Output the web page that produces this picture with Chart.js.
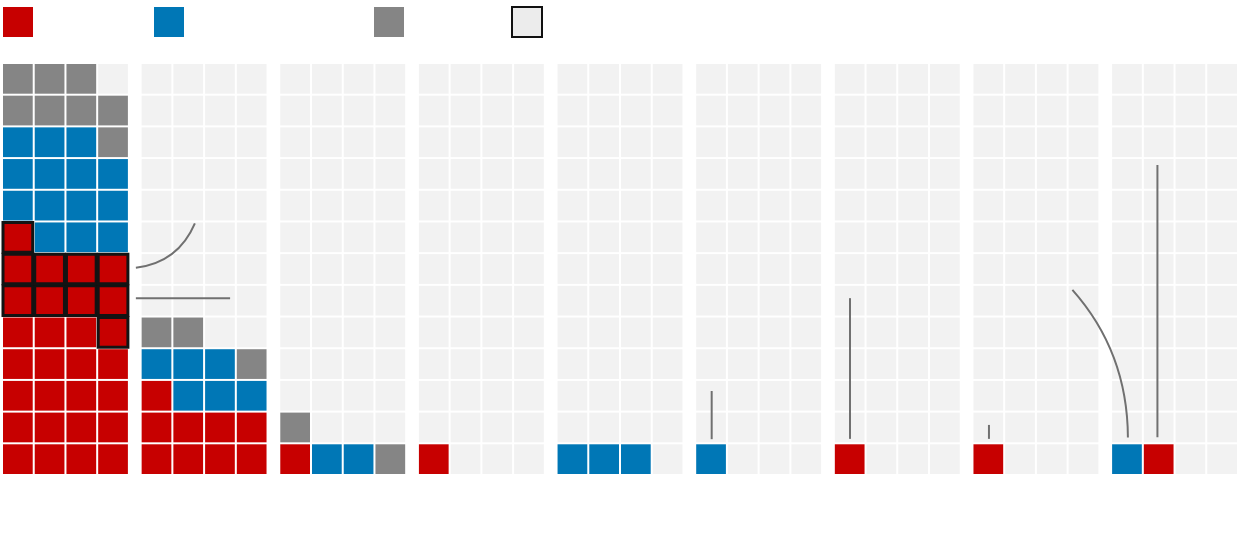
<!DOCTYPE html>
<html>
<head>
<meta charset="utf-8">
<title>Waffle panels</title>
<script src="https://cdn.jsdelivr.net/npm/chart.js@4.4.1/dist/chart.umd.min.js"></script>
<style>
  html, body { margin: 0; padding: 0; background: #fff; }
  #wrap { position: relative; width: 1240px; height: 538px; overflow: hidden; }
  #chart { position: absolute; left: 0; top: 0; }
  .key { position: absolute; top: 7px; width: 30px; height: 30px; }
  .key.red { left: 3px; background: #c70000; }
  .key.blue { left: 154px; background: #0077b6; }
  .key.gray { left: 374px; background: #858585; }
  .key.outline { left: 511px; top: 6px; width: 28px; height: 28px; background: #ececec; border: 2px solid #111; }
</style>
</head>
<body>
<div id="wrap">
  <canvas id="chart" width="1240" height="538"></canvas>
  <div id="legend"></div>
</div>
<script>
/* waffle small multiples: 9 panels of 4 x 13 cells, filled bottom-up */

const ROWS = 13;
const COLS = 4;
const panelIds   = ['p1', 'p2', 'p3', 'p4', 'p5', 'p6', 'p7', 'p8', 'p9'];
const redCounts  = [29, 9, 1, 1, 0, 0, 1, 1, 1];
const blueCounts = [14, 6, 2, 0, 3, 1, 0, 0, 1];
const grayCounts = [ 8, 3, 2, 0, 0, 0, 0, 0, 0];
const fillOrder  = [
  ['red', 'blue', 'gray'], ['red', 'blue', 'gray'], ['red', 'blue', 'gray'],
  ['red', 'blue', 'gray'], ['red', 'blue', 'gray'], ['red', 'blue', 'gray'],
  ['red', 'blue', 'gray'], ['red', 'blue', 'gray'], ['blue', 'red', 'gray']
];
// outlined group: cells 20..29 of the first panel
const highlightPanel = 0;
const highlightStart = 19;
const highlightCount = 10;

// leader lines (data units: x = cell columns, y = rows)
const leaderLines = [
  { from: [4.22, 6.54], ctrl: [5.55, 6.70], to: [6.08, 7.94] },
  { from: [4.22, 5.58], to: [7.19, 5.58] },
  { from: [22.37, 1.13], to: [22.37, 2.65] },
  { from: [26.73, 1.14], to: [26.73, 5.58] },
  { from: [31.11, 1.14], to: [31.11, 1.58] },
  { from: [33.74, 5.84], ctrl: [35.48, 3.88], to: [35.49, 1.18] },
  { from: [36.42, 1.19], to: [36.42, 9.78] }
];

const COLORS = { red: '#c70000', blue: '#0077b6', gray: '#858585', empty: '#f2f2f2', outline: '#131313', leader: '#707070' };
const PANEL_STEP = 4.37;   // panel pitch in cell units
const GAP_PX = 2;

document.getElementById('legend').innerHTML =
  ['red', 'blue', 'gray', 'outline'].map(k => `<div class="key ${k}"></div>`).join('');

function cellPos(p, i) {
  return { x: p * PANEL_STEP + (i % COLS) + 0.5, y: Math.floor(i / COLS) + 0.5 };
}

const cells = { red: [], blue: [], gray: [], empty: [], hi: [] };
panelIds.forEach((id, p) => {
  const counts = { red: redCounts[p], blue: blueCounts[p], gray: grayCounts[p] };
  let i = 0;
  fillOrder[p].forEach(k => {
    for (let n = 0; n < counts[k]; n++, i++) {
      const inHi = p === highlightPanel && i >= highlightStart && i < highlightStart + highlightCount;
      (inHi ? cells.hi : cells[k]).push(cellPos(p, i));
    }
  });
  for (; i < ROWS * COLS; i++) cells.empty.push(cellPos(p, i));
});

function cellRadius(ctx) {
  const xs = ctx.chart.scales.x;
  const unit = xs.getPixelForValue(1) - xs.getPixelForValue(0);
  return (unit - GAP_PX) / Math.SQRT2;
}

function ds(data, fill, border, bw) {
  return {
    data,
    backgroundColor: fill,
    borderColor: border || fill,
    borderWidth: bw || 0,
    pointStyle: 'rect',
    pointRadius: cellRadius,
    pointHoverRadius: cellRadius,
    clip: false
  };
}

const leaderPlugin = {
  id: 'leaders',
  afterDatasetsDraw(chart) {
    const { ctx, scales: { x, y } } = chart;
    ctx.save();
    ctx.strokeStyle = COLORS.leader;
    ctx.lineWidth = 2;
    leaderLines.forEach(l => {
      ctx.beginPath();
      ctx.moveTo(x.getPixelForValue(l.from[0]), y.getPixelForValue(l.from[1]));
      if (l.ctrl) {
        ctx.quadraticCurveTo(x.getPixelForValue(l.ctrl[0]), y.getPixelForValue(l.ctrl[1]),
                             x.getPixelForValue(l.to[0]), y.getPixelForValue(l.to[1]));
      } else {
        ctx.lineTo(x.getPixelForValue(l.to[0]), y.getPixelForValue(l.to[1]));
      }
      ctx.stroke();
    });
    ctx.restore();
  }
};

new Chart(document.getElementById('chart'), {
  type: 'scatter',
  data: {
    // first dataset is drawn on top
    datasets: [
      ds(cells.hi, COLORS.red, COLORS.outline, 3),
      ds(cells.red, COLORS.red),
      ds(cells.blue, COLORS.blue),
      ds(cells.gray, COLORS.gray),
      ds(cells.empty, COLORS.empty)
    ]
  },
  options: {
    responsive: false,
    animation: false,
    events: [],
    layout: { padding: { left: 2, right: 2, top: 63, bottom: 63 } },
    scales: {
      x: { type: 'linear', min: 0, max: (panelIds.length - 1) * PANEL_STEP + COLS, display: false },
      y: { type: 'linear', min: 0, max: ROWS, display: false }
    },
    plugins: { legend: { display: false }, tooltip: { enabled: false } }
  },
  plugins: [leaderPlugin]
});
</script>
</body>
</html>
